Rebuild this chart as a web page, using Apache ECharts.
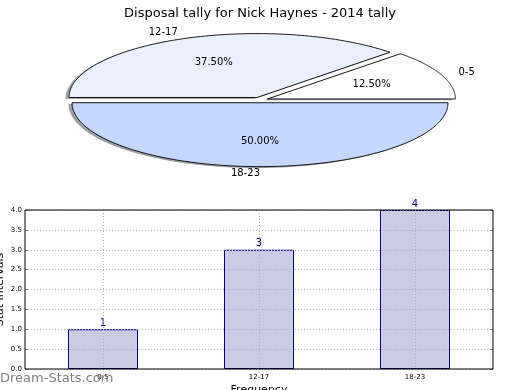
<!DOCTYPE html>
<html><head><meta charset="utf-8">
<script src="https://cdn.jsdelivr.net/npm/echarts@6/dist/echarts.min.js"></script>
<style>html,body{margin:0;padding:0;background:#fff}#c{width:520px;height:390px}</style>
</head><body><div id="c"></div>
<script>
const titleText = 'Disposal tally for Nick Haynes - 2014 tally';
const categories = ['0-5', '12-17', '18-23'];
const counts = [1, 3, 4];
const pieColors = ['#ffffff', '#eaf0ff', '#c4d8ff'];
const yAxisName = 'Stat Intervals';
const xAxisName = 'Frequency';
const watermark = 'Dream-Stats.com';

const PIE = { cx: 260, cy: 100, r: 188, k: 0.34, explode: 8 };
const FONT = 'DejaVu Sans';
const total = counts.reduce((a, b) => a + b, 0);

function hexRgb(h) {
  return [1, 3, 5].map(i => parseInt(h.substr(i, 2), 16));
}

function renderSlice(params, api) {
  const i = params.dataIndex;
  const v = api.value(0);
  let before = 0;
  for (let j = 0; j < i; j++) before += counts[j];
  const t1 = before / total * 2 * Math.PI;
  const t2 = (before + v) / total * 2 * Math.PI;
  const mid = (t1 + t2) / 2;
  const ex = PIE.cx + PIE.explode * Math.cos(mid);
  const ey = PIE.cy - PIE.explode * Math.sin(mid) * PIE.k;
  const pts = [[ex, ey]];
  const n = 160;
  for (let s = 0; s <= n; s++) {
    const t = t1 + (t2 - t1) * s / n;
    pts.push([ex + PIE.r * Math.cos(t), ey - PIE.r * PIE.k * Math.sin(t)]);
  }
  const sh = pts.map(p => [p[0] - 3.5, p[1] + 1.4]);
  const rgb = hexRgb(pieColors[i]).map(c => Math.round(c * 0.3));
  const lx = ex + 1.1 * PIE.r * Math.cos(mid);
  const ly = ey - 1.1 * PIE.r * PIE.k * Math.sin(mid);
  const px = ex + 0.6 * PIE.r * Math.cos(mid);
  const py = ey - 0.6 * PIE.r * PIE.k * Math.sin(mid);
  const pct = (v / total * 100).toFixed(2) + '%';
  return {
    type: 'group',
    children: [
      { type: 'polygon', shape: { points: sh }, style: { fill: 'rgba(' + rgb.join(',') + ',0.5)' } },
      { type: 'polygon', shape: { points: pts }, style: { fill: pieColors[i], stroke: '#000', lineWidth: 0.9 } },
      { type: 'text', style: { text: categories[i], x: lx, y: ly, align: Math.cos(mid) > 0 ? 'left' : 'right', verticalAlign: 'middle', font: '10px "' + FONT + '"', fill: '#000' } },
      { type: 'text', style: { text: pct, x: px, y: py, align: 'center', verticalAlign: 'middle', font: '10px "' + FONT + '"', fill: '#000' } }
    ]
  };
}

const chart = echarts.init(document.getElementById('c'), null, { renderer: 'canvas' });
chart.setOption({
  animation: false,
  backgroundColor: '#fff',
  textStyle: { fontFamily: FONT },
  title: {
    text: titleText, left: 'center', top: 2,
    textStyle: { fontFamily: FONT, fontSize: 13, fontWeight: 'normal', color: '#000' }
  },
  graphic: [
    { type: 'text', left: 0, top: 372, z: 100, style: { text: watermark, font: '13px "' + FONT + '"', fill: '#808080' } }
  ],
  grid: { left: 25, right: 27, top: 210, bottom: 21, containLabel: false, outerBoundsMode: 'none', show: true, borderColor: '#000', borderWidth: 1, backgroundColor: 'transparent', z: 4 },
  xAxis: {
    type: 'category', data: categories, z: 3,
    name: xAxisName, nameLocation: 'middle', nameGap: 16, nameMoveOverlap: false,
    nameTextStyle: { fontSize: 11, color: '#000', fontFamily: FONT },
    axisLine: { show: false },
    axisTick: { show: false },
    axisLabel: { fontSize: 7, color: '#000', margin: 5, fontFamily: FONT },
    splitLine: { show: true, alignWithLabel: true, interval: 0, lineStyle: { color: '#b0b0b0', type: [1, 2], width: 1 } }
  },
  yAxis: [{
    type: 'value', min: 0, max: 4, interval: 0.5, z: 3,
    name: yAxisName, nameLocation: 'middle', nameGap: 19, nameRotate: 90, nameMoveOverlap: false,
    nameTextStyle: { fontSize: 11, color: '#000', fontFamily: FONT },
    axisLine: { show: false },
    axisTick: { show: true, inside: true, length: 3, lineStyle: { color: '#888' } },
    axisLabel: { fontSize: 7, color: '#000', margin: 3, fontFamily: FONT, formatter: v => v.toFixed(1) },
    splitLine: { show: true, lineStyle: { color: '#b0b0b0', type: [1, 2], width: 1 } }
  }, {
    type: 'value', min: 0, max: 4, interval: 0.5, position: 'right', z: 3,
    axisLine: { show: false },
    axisTick: { show: true, inside: true, length: 3, lineStyle: { color: '#888' } },
    axisLabel: { show: false },
    splitLine: { show: false }
  }],
  series: [
    {
      type: 'bar', data: counts, barWidth: 70, z: 2,
      itemStyle: { color: '#cbcbe5', borderColor: '#000080', borderWidth: 1 },
      label: { show: true, position: 'top', distance: 1, color: '#000080', fontSize: 10, fontFamily: FONT }
    },
    {
      type: 'custom', coordinateSystem: 'none', silent: true, z: 5,
      data: counts.map(c => [c]),
      renderItem: renderSlice
    }
  ]
});
</script></body></html>
